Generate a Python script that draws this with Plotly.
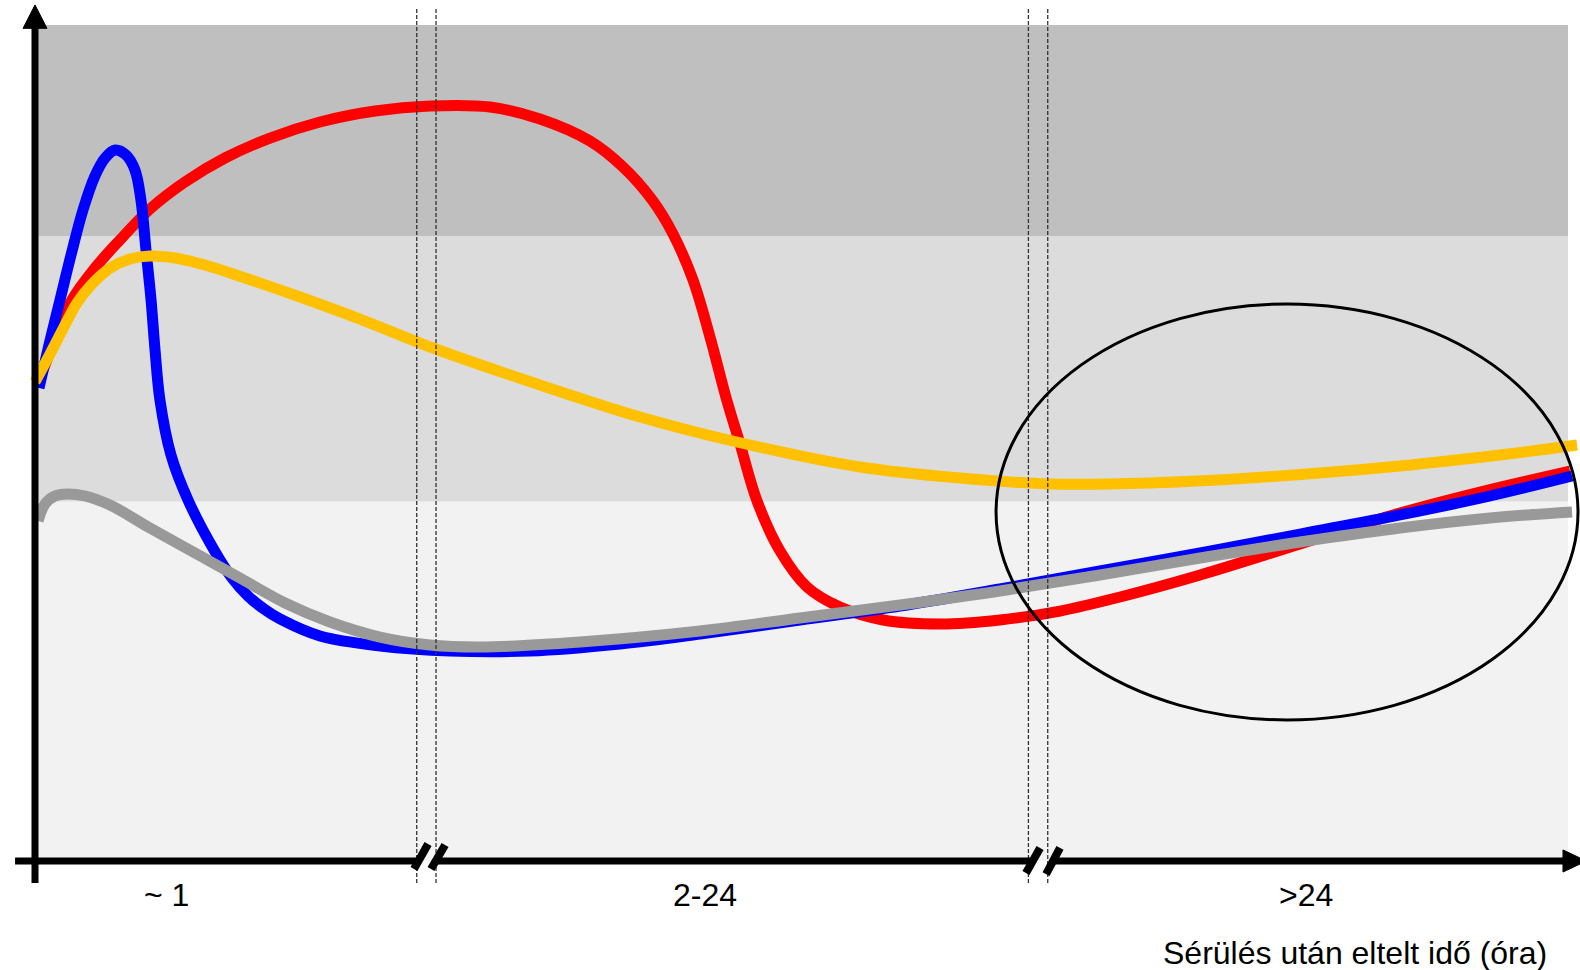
import plotly.graph_objects as go

# ---- data (x: time axis units 0-100 across three phases, y: relative level 0-100) ----
phase_labels = ["~ 1", "2-24", ">24"]
phase_label_x = [8.55, 43.7, 82.9]
axis_title = "Sérülés után eltelt idő (óra)"

blue_x = [0.26, 0.91, 1.63, 2.35, 3.13, 3.91, 4.57, 5.22, 5.94, 6.52, 6.91, 7.24, 7.57,
          7.83, 8.15, 8.87, 9.98, 11.68, 12.85, 13.89, 14.94, 15.98, 18.59, 22.51, 27.07,
          32.29, 38.16, 43.38, 49.90, 56.43, 62.95, 69.47, 76.00, 82.52, 89.04, 94.91, 100.26]
blue_y = [56.58, 61.72, 67.11, 72.49, 77.87, 81.94, 84.09, 85.05, 84.45, 82.66, 79.07, 73.09, 67.11,
          61.12, 55.14, 48.56, 43.18, 37.20, 33.85, 31.70, 30.14, 28.95, 26.91, 25.72, 25.12,
          25.12, 25.96, 27.15, 28.83, 30.50, 32.54, 34.69, 36.84, 39.11, 41.39, 43.66, 46.05]

red_x = [0.20, 1.30, 2.41, 3.91, 5.54, 7.50, 9.78, 12.39, 15.33, 18.59, 22.18, 25.77, 29.68,
         32.94, 36.20, 38.36, 40.31, 41.62, 42.92, 44.03, 45.14, 45.99, 47.10, 48.60, 50.36,
         52.51, 55.32, 59.04, 62.95, 66.86, 70.78, 76.00, 82.52, 89.04, 94.26, 100.13]
red_y = [57.18, 62.32, 67.11, 70.93, 74.28, 77.99, 81.22, 84.09, 86.48, 88.40, 89.71, 90.31, 90.19,
         88.76, 86.12, 83.01, 78.95, 75.00, 69.50, 62.68, 55.02, 49.88, 43.06, 37.08, 32.78,
         30.38, 28.83, 28.35, 28.83, 29.90, 31.58, 34.21, 37.92, 41.63, 44.14, 46.65]

yellow_x = [0.00, 0.98, 1.89, 2.74, 3.72, 4.89, 6.20, 7.50, 9.13, 11.09, 13.70, 17.29, 21.53,
            25.96, 32.94, 39.47, 45.79, 53.82, 60.34, 66.21, 72.73, 79.26, 89.04, 95.56, 100.59]
yellow_y = [57.30, 60.65, 63.88, 66.75, 69.02, 70.93, 72.01, 72.37, 72.13, 71.29, 69.74, 67.46, 64.59,
            61.36, 56.94, 53.11, 50.12, 47.13, 45.81, 45.10, 45.22, 45.81, 47.25, 48.56, 49.76]

gray_x = [0.20, 0.65, 1.30, 2.09, 3.26, 4.89, 7.50, 10.44, 13.37, 16.31, 19.24, 22.50, 25.77,
          29.03, 35.55, 43.38, 49.90, 56.43, 62.95, 69.47, 76.00, 82.52, 89.04, 94.91, 100.26]
gray_y = [40.67, 42.70, 43.66, 43.90, 43.66, 42.58, 39.83, 36.84, 33.85, 30.86, 28.59, 26.79, 25.84,
          25.60, 26.20, 27.51, 29.07, 30.62, 32.30, 34.21, 36.24, 38.16, 39.83, 41.03, 41.75]

# background zones (y ranges)
zone_bounds = [0, 43.0, 74.76, 100]
zone_colors = ["#f2f2f2", "#dcdcdc", "#bfbfbf"]

# axis break positions (dashed guide pairs)
break_guides = [24.90, 26.16, 64.80, 66.06]

fig = go.Figure()

for xs, ys, col in [(red_x, red_y, "#ff0000"), (blue_x, blue_y, "#0000ff"),
                    (yellow_x, yellow_y, "#ffc000"), (gray_x, gray_y, "#999999")]:
    fig.add_trace(go.Scatter(x=xs, y=ys, mode="lines",
                             line=dict(color=col, width=11, shape="spline", smoothing=1.0),
                             hoverinfo="skip", showlegend=False))

shapes = []
for i, col in enumerate(zone_colors):
    shapes.append(dict(type="rect", xref="x", yref="y", x0=0.2, x1=100,
                       y0=zone_bounds[i], y1=zone_bounds[i + 1],
                       fillcolor=col, line=dict(width=0), layer="below"))

for gx in break_guides:
    shapes.append(dict(type="line", xref="x", yref="y", x0=gx, x1=gx, y0=-2.63, y1=102.15,
                       line=dict(color="#333333", width=1.3, dash="4px,2px"), layer="above"))

# ellipse
shapes.append(dict(type="circle", xref="x", yref="y", x0=62.69, x1=100.65, y0=16.87, y1=66.63,
                   line=dict(color="black", width=3), layer="above"))

# y axis with arrow
shapes.append(dict(type="line", xref="x", yref="y", x0=0, x1=0, y0=-2.63, y1=99.8,
                   line=dict(color="black", width=7), layer="above"))
shapes.append(dict(type="path", xref="x", yref="y",
                   path="M -0.78,99.6 L 0,102.4 L 0.78,99.6 Z",
                   fillcolor="black", line=dict(color="black", width=1), layer="above"))

# x axis segments with breaks and arrow
for a, b in [(-1.30, 25.18), (26.29, 65.10), (66.41, 99.9)]:
    shapes.append(dict(type="line", xref="x", yref="y", x0=a, x1=b, y0=0, y1=0,
                       line=dict(color="black", width=7), layer="above"))
shapes.append(dict(type="path", xref="x", yref="y",
                   path="M 99.67,1.32 L 101.2,0 L 99.67,-1.32 Z",
                   fillcolor="black", line=dict(color="black", width=1), layer="above"))
for (xa, ya, xb, yb) in [(24.72, -0.96, 25.64, 2.03), (25.83, -0.96, 26.75, 1.91),
                         (64.64, -1.44, 65.56, 1.56), (65.95, -1.56, 66.86, 1.56)]:
    shapes.append(dict(type="line", xref="x", yref="y", x0=xa, x1=xb, y0=ya, y1=yb,
                       line=dict(color="black", width=8), layer="above"))

annotations = []
font = dict(family="Arial, Liberation Sans, sans-serif", size=32, color="black")
for lab, lx in zip(phase_labels, phase_label_x):
    annotations.append(dict(x=lx, y=-4.1, xref="x", yref="y", text=lab, showarrow=False,
                            xanchor="center", yanchor="middle", font=font))
annotations.append(dict(x=98.76, y=-11.0, xref="x", yref="y", text=axis_title, showarrow=False,
                        xanchor="right", yanchor="middle", font=font))

fig.update_layout(
    width=1580, height=970,
    margin=dict(l=0, r=0, t=0, b=0),
    paper_bgcolor="white", plot_bgcolor="white",
    xaxis=dict(range=[-2.283, 100.78], visible=False, fixedrange=True),
    yaxis=dict(range=[-13.04, 102.99], visible=False, fixedrange=True),
    shapes=shapes, annotations=annotations, showlegend=False,
)

fig.write_html("out.html", config={"displayModeBar": False},
               post_script="document.body.style.margin='0px';document.body.style.overflow='hidden';")
